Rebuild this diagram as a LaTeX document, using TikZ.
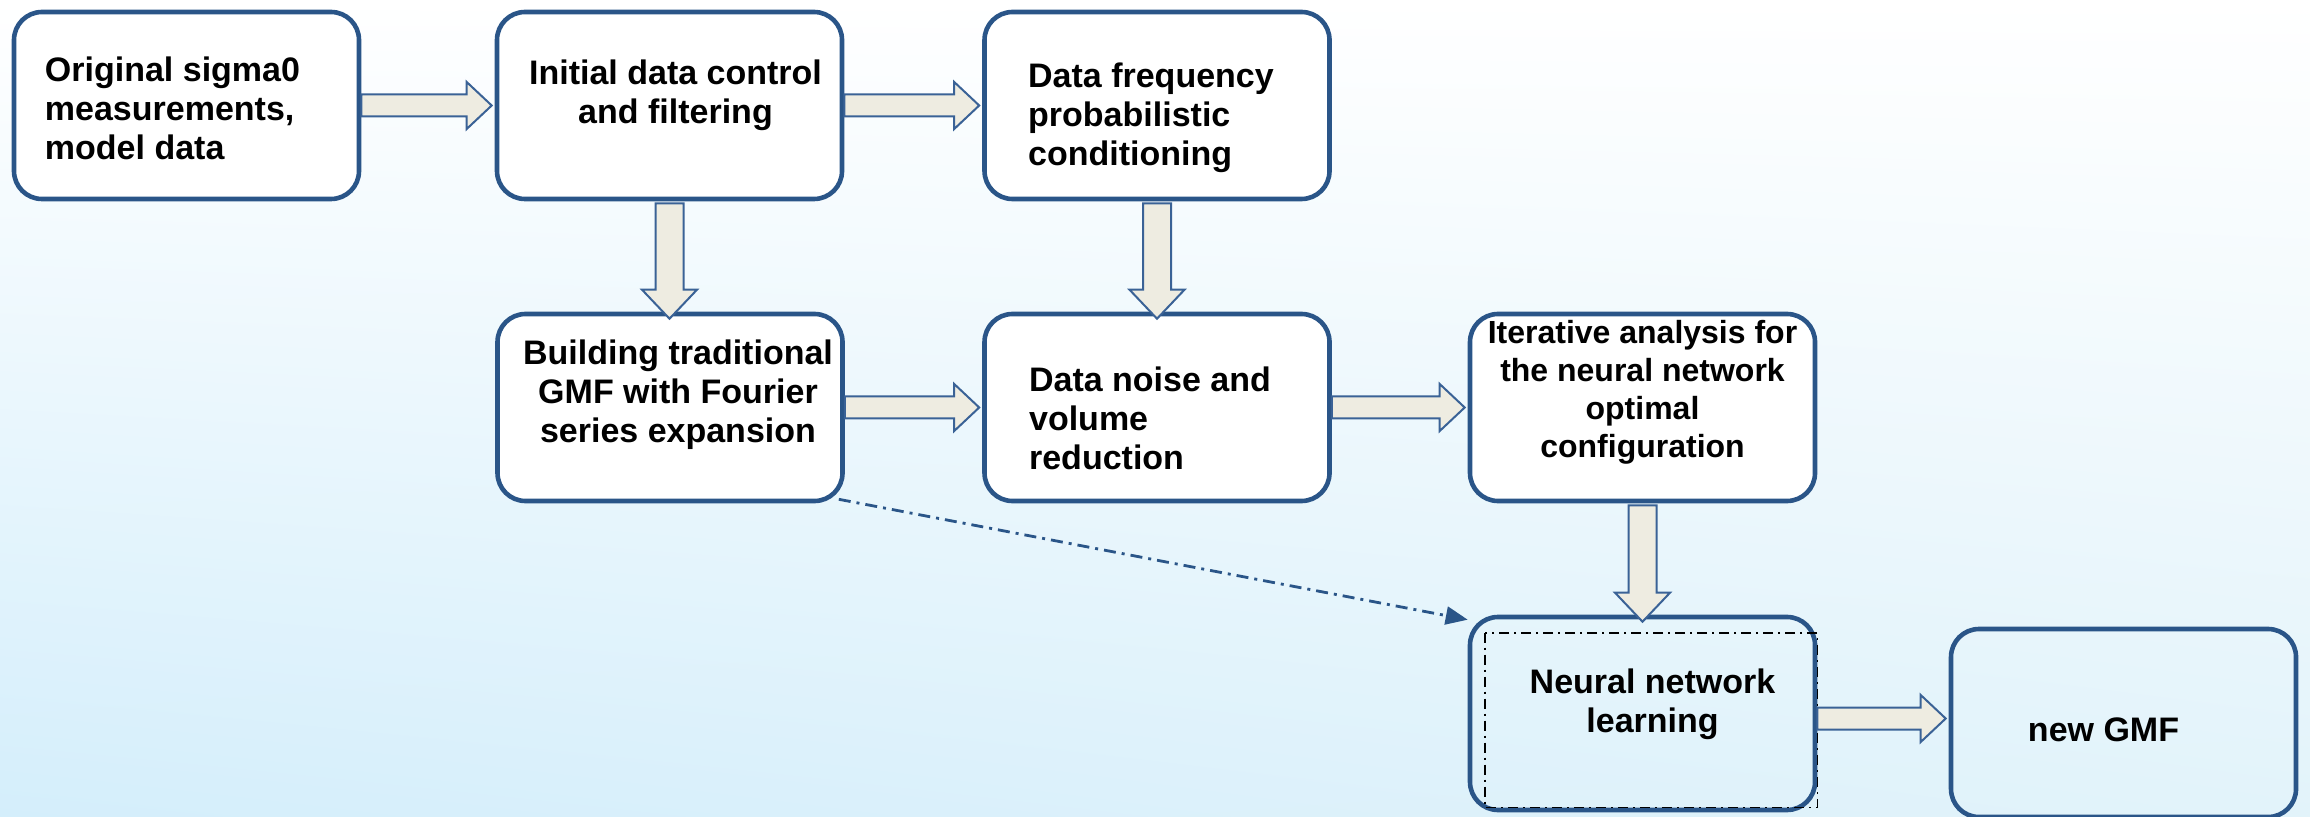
\documentclass[tikz,border=0pt]{standalone}
\usepackage{fontspec}
\setmainfont{Liberation Sans}
\usepackage{xcolor}
\usepackage{tikz}
\usetikzlibrary{arrows.meta,calc,shadings}

\definecolor{boxblue}{HTML}{2A5588}
\definecolor{arrowfill}{HTML}{EEECE1}
\definecolor{arrowline}{HTML}{3A6296}
\definecolor{bgleft}{HTML}{D4EEFB}
\definecolor{bgright}{HTML}{E2F3FA}

\begin{document}
\begin{tikzpicture}[x=0.5pt, y=-0.5pt,
  box/.style={draw=boxblue, line width=2.3pt, rounded corners=14pt, fill=white,
    minimum width=172.5pt, minimum height=93.5pt, inner sep=0pt},
  txt/.style={inner sep=0pt, font=\bfseries\fontsize{17}{19.5}\selectfont},
  fat/.style={draw=arrowline, line width=1pt, fill=arrowfill},
  dashdot/.style={dash pattern=on 6pt off 3pt on 1.5pt off 3pt}]

% Fix the page and shade the background
\useasboundingbox (0,0) rectangle (2310,817);
\shade[upper left=white, upper right=white, lower left=bgleft, lower right=bgright]
  (0,0) rectangle (2310,817);

% Top row
\node[box] (orig) at (186.5,105.5) {};
\node[box] (init) at (669.5,105.5) {};
\node[box] (freq) at (1157,105.5) {};

% Middle row
\node[box] (gmf) at (670,407.5) {};
\node[box] (noise) at (1157,407.5) {};
\node[box] (iter) at (1642.5,407.5) {};

% Bottom row
\node[box, fill=none, minimum height=96.5pt] (learn) at (1642.5,713.5) {};
\node[box, fill=none, minimum height=94pt] (newgmf) at (2123.5,723) {};

% Texts of the boxes
\node[txt, align=left] (origtxt) at ($(orig)+(-14,2.5)$) {Original sigma0\\measurements,\\model data};
\node[txt, align=center] (inittxt) at ($(init)+(6,-10)$) {Initial data control\\and filtering};
\node[txt, align=left] (freqtxt) at ($(freq)+(-6,12.5)$) {Data frequency\\probabilistic\\conditioning};
\node[txt, align=center] (gmftxt) at ($(gmf)+(8,-13)$) {Building traditional\\GMF with Fourier\\series expansion};
\node[txt, align=left] (noisetxt) at ($(noise)+(-7,10.5)$) {Data noise and\\volume\\reduction};
\node[txt, align=center, font=\bfseries\fontsize{16}{19}\selectfont] (itertxt) at ($(iter)+(0,-15.5)$)
  {Iterative analysis for\\the neural network\\optimal\\configuration};
\node[txt, align=center] (learntxt) at ($(learn)+(10,-9)$) {Neural network\\learning};
\node[txt] (newgmftxt) at ($(newgmf)+(-20,7)$) {new GMF};

% Dash-dot frame inside the learning box
\draw[black, line width=0.8pt, dash pattern=on 5pt off 2.5pt on 1pt off 2.5pt]
  ($(learn.north west)+(17,18)$) rectangle ($(learn.south east)+(0,-5)$);

% Horizontal block arrows
\foreach \a/\b/\d in {orig/init/0pt,init/freq/0pt,gmf/noise/0pt,noise/iter/0pt,learn/newgmf/-2.5pt}
  \draw[fat] let \p1=(\a.east), \p2=(\b.west) in
    (\x1,\y1+\d+5.5pt) -- (\x2-14pt,\y1+\d+5.5pt) -- (\x2-14pt,\y1+\d+11.75pt)
    -- (\x2-1.5pt,\y1+\d) -- (\x2-14pt,\y1+\d-11.75pt) -- (\x2-14pt,\y1+\d-5.5pt)
    -- (\x1,\y1+\d-5.5pt) -- cycle;

% Vertical block arrows
\foreach \a/\b in {init/gmf,freq/noise,iter/learn}
  \draw[fat] let \p1=(\a.south), \p2=(\b.north) in
    (\x1-7pt,\y1-1pt) -- (\x1-7pt,\y2+11pt) -- (\x1-13.75pt,\y2+11pt)
    -- (\x1,\y2-3.5pt) -- (\x1+13.75pt,\y2+11pt) -- (\x1+7pt,\y2+11pt)
    -- (\x1+7pt,\y1-1pt) -- cycle;

% Dash-dot link from the GMF box to the learning box
\draw[boxblue, line width=1.4pt, dashdot, -{Triangle[length=11pt, width=9pt]}]
  ($(gmf.south east)+(-6,-4)$) -- ($(learn.north west)+(0,5)$);

\end{tikzpicture}
\end{document}
